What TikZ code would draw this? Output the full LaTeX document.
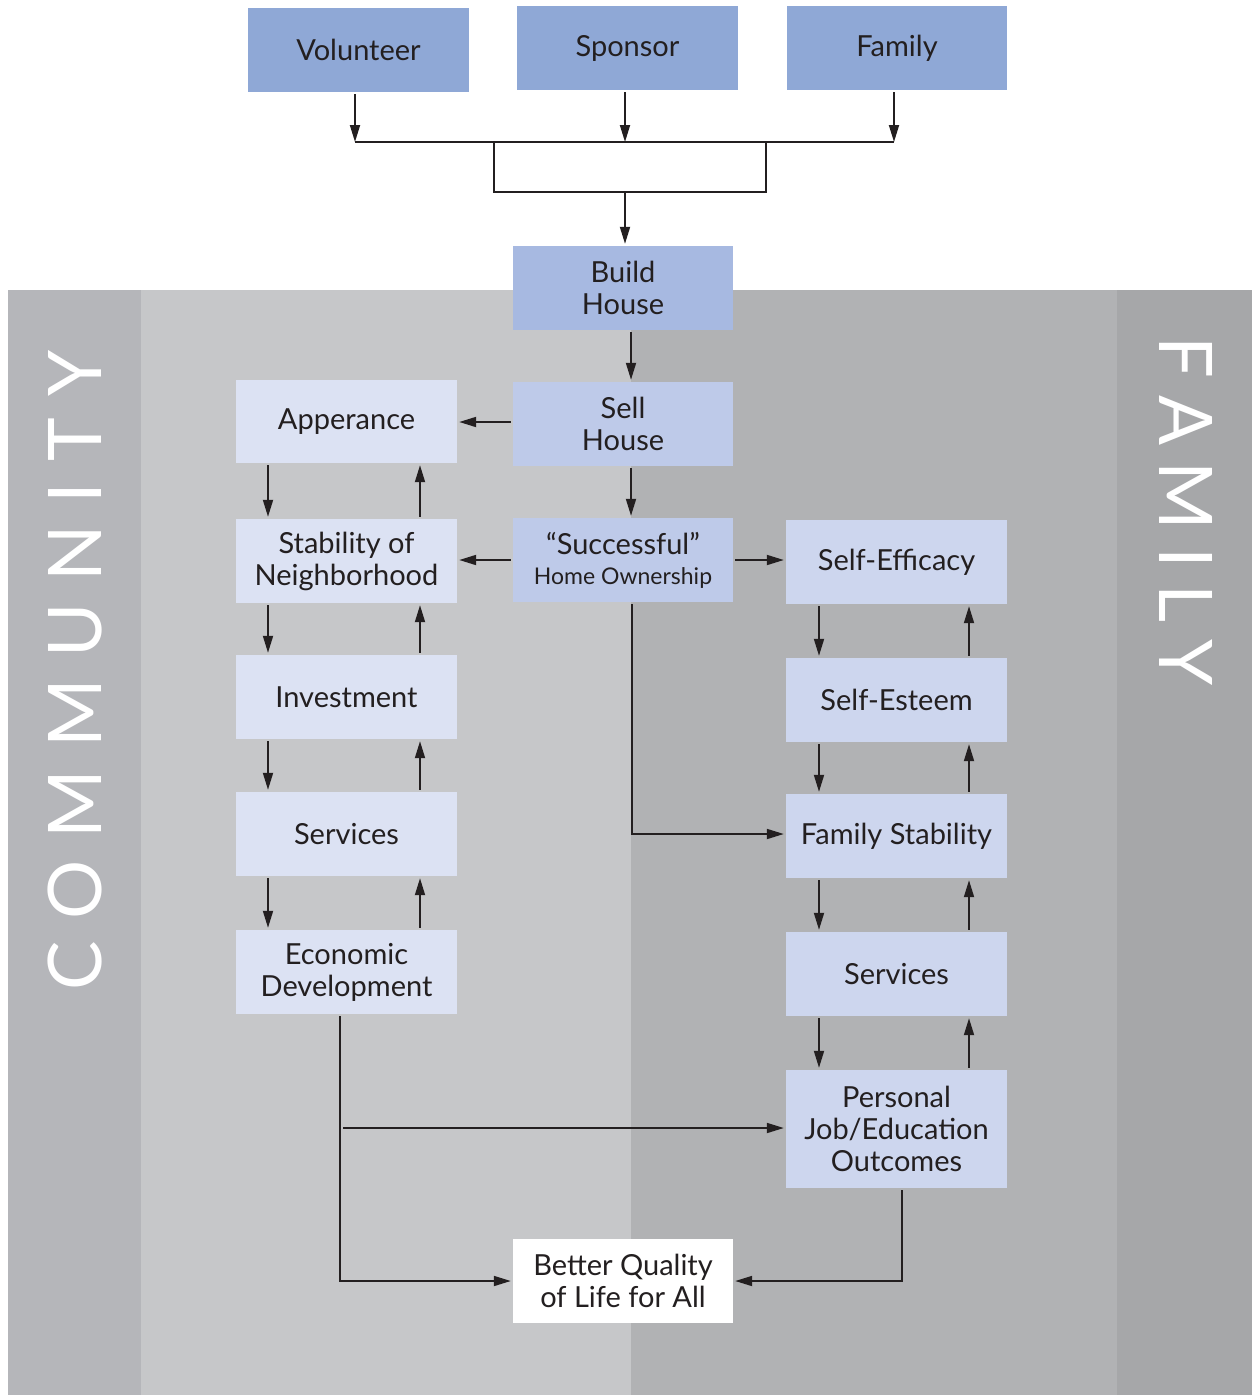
\documentclass[tikz,border=0pt]{standalone}
\usepackage{fontspec}
\setmainfont{Lato}
\usetikzlibrary{arrows.meta}
\definecolor{txt}{HTML}{231F20}
\definecolor{topbox}{HTML}{8FA8D6}
\definecolor{buildc}{HTML}{A7B9E1}
\definecolor{sellc}{HTML}{BECAE9}
\definecolor{leftc}{HTML}{DCE2F3}
\definecolor{rightc}{HTML}{CDD6EE}
\definecolor{stripL}{HTML}{B5B6BA}
\definecolor{midL}{HTML}{C6C7C9}
\definecolor{midR}{HTML}{B1B2B4}
\definecolor{stripR}{HTML}{A6A7A9}
\begin{document}
\begin{tikzpicture}[x=1pt,y=-1pt,
  box/.style={rectangle, minimum width=221pt, minimum height=84pt, inner sep=0pt, align=center,
    font=\fontsize{29}{32}\selectfont, text=txt},
  arr/.style={-{Triangle[length=17pt,width=10pt]}, line width=1.8pt, draw=txt, shorten <=2pt, shorten >=2pt},
  ln/.style={line width=1.8pt, draw=txt},
  band/.style={text=white, font=\fontsize{74}{74}\selectfont, inner sep=0pt}]
% background
\useasboundingbox (0,0) rectangle (1252,1395);
\fill[white] (0,0) rectangle (1252,1395);
\fill[stripL] (8,290) rectangle (141,1395);
\fill[midL] (141,290) rectangle (631,1395);
\fill[midR] (631,290) rectangle (1117,1395);
\fill[stripR] (1117,290) rectangle (1252,1395);
% band labels
\node[band, rotate=90] (comm) at (75,670) {\makebox[640pt][s]{C\hfill O\hfill M\hfill M\hfill U\hfill N\hfill I\hfill T\hfill Y}};
\node[band, rotate=-90] (famlabel) at (1186,511) {\makebox[349pt][s]{F\hfill A\hfill M\hfill I\hfill L\hfill Y}};
% top boxes
\node[box, fill=topbox] (vol) at (358.5,50) {Volunteer};
\node[box, fill=topbox] (spo) at (627.5,48) {Sponsor};
\node[box, fill=topbox, minimum width=220pt] (fam) at (897,48) {Family};
% centre column
\node[box, fill=buildc, minimum width=220pt] (build) at (623,288) {Build\\House};
\node[box, fill=sellc, minimum width=220pt] (sell) at (623,424) {Sell\\House};
\node[box, fill=sellc, minimum width=220pt] (succ) at (623,560) {“Successful”\\[-2pt]{\fontsize{23}{28}\selectfont Home Ownership}};
% left column
\node[box, fill=leftc, minimum height=83pt] (app) at (346.5,421.5) {Apperance};
\node[box, fill=leftc] (stab) at (346.5,561) {Stability of\\Neighborhood};
\node[box, fill=leftc] (inv) at (346.5,697) {Investment};
\node[box, fill=leftc] (servL) at (346.5,834) {Services};
\node[box, fill=leftc] (econ) at (346.5,972) {Economic\\Development};
% right column
\node[box, fill=rightc] (eff) at (896.5,562) {Self-Efficacy};
\node[box, fill=rightc] (est) at (896.5,700) {Self-Esteem};
\node[box, fill=rightc] (fstab) at (896.5,836) {Family Stability};
\node[box, fill=rightc] (servR) at (896.5,974) {Services};
\node[box, fill=rightc, minimum height=118pt] (pers) at (896.5,1129) {Personal\\Job/Education\\Outcomes};
% bottom
\node[box, fill=white, minimum width=220pt] (better) at (623,1281) {Better Quality\\of Life for All};
% top merge
\coordinate (jL) at (355,142);
\coordinate (jM) at (625,142);
\coordinate (jR) at (894,142);
\draw[arr, shorten >=0pt] ([xshift=-3.5pt]vol.south) -- (jL);
\draw[arr, shorten >=0pt] ([xshift=-2.5pt]spo.south) -- (jM);
\draw[arr, shorten >=0pt] ([xshift=-3pt]fam.south) -- (jR);
\draw[ln] (jL) -- (jR);
\coordinate (mTL) at (494,142);
\coordinate (mBR) at (766,192);
\draw[ln] (mTL) rectangle (mBR);
\coordinate (mOut) at (625,192);
\draw[arr, shorten <=0pt] (mOut) -- ([xshift=2pt]build.north);
% centre flow
\draw[arr] ([xshift=8pt]build.south) -- ([xshift=8pt]sell.north);
\draw[arr] ([xshift=8pt]sell.south) -- ([xshift=8pt]succ.north);
\draw[arr] ([yshift=2pt]sell.west) -- ([yshift=2pt]sell.west -| app.east);
\draw[arr] (succ.west) -- (succ.west -| stab.east);
\draw[arr] (succ.east) -- (succ.east -| eff.west);
\draw[arr] ([xshift=9pt]succ.south) |- ([yshift=2pt]fstab.west);
% left column pairs
\foreach \a/\b in {app/stab, stab/inv, inv/servL, servL/econ}{
  \draw[arr] ([xshift=-78.5pt]\a.south) -- ([xshift=-78.5pt]\b.north);
  \draw[arr] ([xshift=73.5pt]\b.north) -- ([xshift=73.5pt]\a.south);
}
% right column pairs
\foreach \a/\b in {eff/est, est/fstab, fstab/servR, servR/pers}{
  \draw[arr] ([xshift=-77.5pt]\a.south) -- ([xshift=-77.5pt]\b.north);
  \draw[arr] ([xshift=72.5pt]\b.north) -- ([xshift=72.5pt]\a.south);
}
% bottom links
\draw[arr] ([xshift=-6.5pt]econ.south) |- (better.west);
\coordinate (branch) at (343,1128);
\draw[arr, shorten <=0pt] (branch) -- (branch -| pers.west);
\draw[arr] ([xshift=5.5pt]pers.south) |- (better.east);
\end{tikzpicture}
\end{document}
